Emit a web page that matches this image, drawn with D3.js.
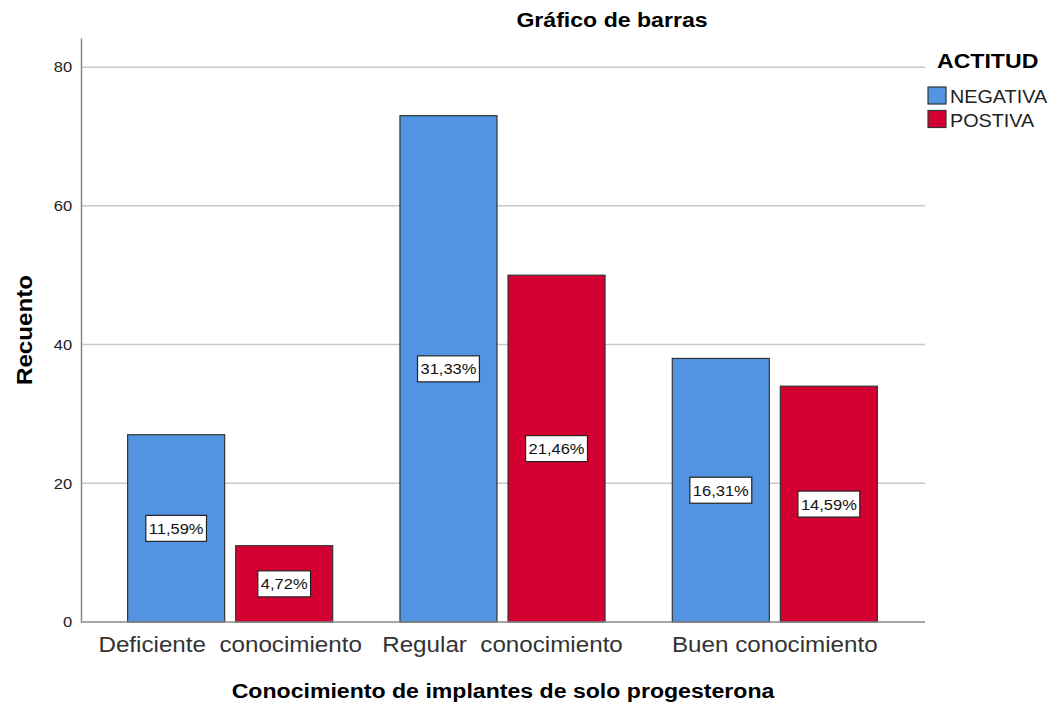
<!DOCTYPE html>
<meta charset="utf-8">
<script src="https://d3js.org/d3.v7.min.js"></script>
<style>
  body { margin: 0; background: #fff; }
  text { font-family: "Liberation Sans", Arial, sans-serif; }
</style>
<div id="dataviz"></div>
<script>

// data
var categories = ["Deficiente  conocimiento", "Regular  conocimiento", "Buen conocimiento"];
var series = ["NEGATIVA", "POSTIVA"];
var negativa = [27, 73, 38];
var postiva = [11, 50, 34];
var pctNegativa = ["11,59%", "31,33%", "16,31%"];
var pctPostiva = ["4,72%", "21,46%", "14,59%"];
var yTicks = [0, 20, 40, 60, 80];
var colors = ["#5294e2", "#d50032"];

var width = 1052, height = 704;
var sx = 1.1; // the original text is a bit wider than Arial

var svg = d3.select("#dataviz")
  .append("svg")
    .attr("width", width)
    .attr("height", height);

var y = d3.scaleLinear()
  .domain([0, 84.2])
  .range([622, 38]);

var x0 = d3.scaleBand()
  .domain(categories)
  .range([94, 911])
  .paddingInner(0.247)
  .paddingOuter(0.1235);

var x1 = d3.scaleBand()
  .domain(series)
  .range([0, x0.bandwidth()])
  .paddingInner(0.102);

var rows = [];
categories.forEach(function(c, i) {
  rows.push({cat: c, ser: "NEGATIVA", value: negativa[i], pct: pctNegativa[i]});
  rows.push({cat: c, ser: "POSTIVA", value: postiva[i], pct: pctPostiva[i]});
});

// gridlines
svg.append("g")
  .selectAll("line")
  .data(yTicks.filter(function(d) { return d > 0; }))
  .join("line")
    .attr("x1", 81)
    .attr("x2", 925)
    .attr("y1", function(d) { return y(d); })
    .attr("y2", function(d) { return y(d); })
    .attr("stroke", "#c8c8c8")
    .attr("stroke-width", 1.5);

// y axis
var yAxis = svg.append("g")
  .attr("transform", "translate(81,0)")
  .call(d3.axisLeft(y).tickValues(yTicks).tickSize(0).tickPadding(8));
yAxis.select(".domain").attr("stroke", "#888").attr("stroke-width", 1.5);
yAxis.selectAll("text")
  .style("font-size", "15px")
  .style("font-family", "'Liberation Sans', Arial, sans-serif")
  .attr("fill", "#222")
  .attr("transform", "scale(" + sx + ",1)");

// bars
svg.append("g")
  .selectAll("rect")
  .data(rows)
  .join("rect")
    .attr("x", function(d) { return x0(d.cat) + x1(d.ser); })
    .attr("y", function(d) { return y(d.value); })
    .attr("width", x1.bandwidth())
    .attr("height", function(d) { return y(0) - y(d.value); })
    .attr("fill", function(d) { return d.ser == "NEGATIVA" ? colors[0] : colors[1]; })
    .attr("stroke", "#333")
    .attr("stroke-width", 1.2);

// x axis line
svg.append("line")
  .attr("x1", 81).attr("x2", 925)
  .attr("y1", y(0)).attr("y2", y(0))
  .attr("stroke", "#888").attr("stroke-width", 1.5);

// percentage labels
var lab = svg.append("g")
  .selectAll("g")
  .data(rows)
  .join("g")
    .attr("transform", function(d) {
      return "translate(" + (x0(d.cat) + x1(d.ser) + x1.bandwidth() / 2) + "," + ((y(d.value) + y(0)) / 2) + ")";
    });
lab.append("text")
  .attr("text-anchor", "middle")
  .attr("dy", "0.36em")
  .attr("transform", "scale(" + sx + ",1)")
  .style("font-size", "15px")
  .attr("fill", "#111")
  .text(function(d) { return d.pct; });
lab.each(function() {
  var g = d3.select(this);
  var w = g.select("text").node().getBBox().width * sx;
  g.insert("rect", "text")
    .attr("x", -w / 2 - 3)
    .attr("y", -13)
    .attr("width", w + 6)
    .attr("height", 26)
    .attr("fill", "#fff")
    .attr("stroke", "#222")
    .attr("stroke-width", 1.2);
});

// category labels
svg.append("g")
  .selectAll("text")
  .data(categories)
  .join("text")
    .attr("transform", function(d) {
      return "translate(" + (x0(d) + x0.bandwidth() / 2) + ",652) scale(" + sx + ",1)";
    })
    .attr("text-anchor", "middle")
    .style("font-size", "22px")
    .style("white-space", "pre")
    .attr("fill", "#333")
    .text(function(d) { return d; });

// titles
svg.append("text")
  .attr("transform", "translate(612,27) scale(" + sx + ",1)")
  .attr("text-anchor", "middle")
  .style("font-size", "21px").style("font-weight", "bold")
  .text("Gráfico de barras");

svg.append("text")
  .attr("transform", "translate(503,698) scale(" + sx + ",1)")
  .attr("text-anchor", "middle")
  .style("font-size", "21px").style("font-weight", "bold")
  .text("Conocimiento de implantes de solo progesterona");

svg.append("text")
  .attr("transform", "translate(32,330) rotate(-90) scale(" + sx + ",1)")
  .attr("text-anchor", "middle")
  .style("font-size", "22px").style("font-weight", "bold")
  .text("Recuento");

// legend
svg.append("text")
  .attr("transform", "translate(937,68) scale(" + sx + ",1)")
  .style("font-size", "21px").style("font-weight", "bold")
  .text("ACTITUD");

var leg = svg.append("g")
  .selectAll("g")
  .data(series)
  .join("g")
    .attr("transform", function(d, i) { return "translate(928," + (87 + i * 23.5) + ")"; });
leg.append("rect")
  .attr("width", 18).attr("height", 17)
  .attr("fill", function(d, i) { return colors[i]; })
  .attr("stroke", "#333").attr("stroke-width", 1.2);
leg.append("text")
  .attr("transform", "translate(22,16) scale(" + sx + ",1)")
  .style("font-size", "18px")
  .attr("fill", "#222")
  .text(function(d) { return d; });

</script>
